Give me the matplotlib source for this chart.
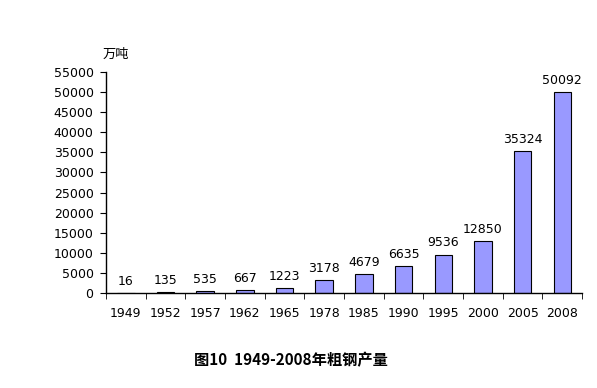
import matplotlib
matplotlib.use('Agg')
import matplotlib.pyplot as plt
import numpy as np

plt.rcParams['font.family'] = ['Noto Sans CJK SC', 'DejaVu Sans']

# 数据
years = ['1949', '1952', '1957', '1962', '1965', '1978', '1985',
         '1990', '1995', '2000', '2005', '2008']
produccion = [16, 135, 535, 667, 1223, 3178, 4679,
              6635, 9536, 12850, 35324, 50092]

fig = plt.figure(figsize=(5.97, 3.88), dpi=100)
ax = fig.add_axes([0.1776, 0.2448, 0.7974, 0.5696])

x = np.arange(len(years))
ax.bar(x, produccion, width=0.44, color='#9999FF', edgecolor='black', linewidth=0.8)

for xi, v in zip(x, produccion):
    ax.text(xi, v + 1300, str(v), ha='center', va='bottom', fontsize=9,
            family='DejaVu Sans')

ax.set_xlim(-0.5, len(years) - 0.5)
ax.set_ylim(0, 55000)
ax.set_yticks(np.arange(0, 55001, 5000))
ax.set_yticklabels([str(t) for t in range(0, 55001, 5000)], fontsize=9,
                   family='DejaVu Sans')

# etiquetas x sin ticks, ticks entre categorias
ax.set_xticks(x)
ax.set_xticklabels(years, fontsize=9, family='DejaVu Sans')
ax.tick_params(axis='x', length=0, pad=10)
ax.set_xticks(np.arange(-0.5, len(years)), minor=True)
ax.tick_params(axis='x', which='minor', length=4, direction='out')
ax.tick_params(axis='y', length=4, direction='out', pad=5)

for s in ['top', 'right']:
    ax.spines[s].set_visible(False)
ax.spines['left'].set_linewidth(1)
ax.spines['bottom'].set_linewidth(1)

fig.text(0.172, 0.86, '万吨', fontsize=9.5, ha='left', va='center')
fig.text(0.487, 0.072, '图10  1949-2008年粗钢产量', fontsize=11,
         fontweight='bold', ha='center', va='center')

fig.savefig('out.png', dpi=100)
